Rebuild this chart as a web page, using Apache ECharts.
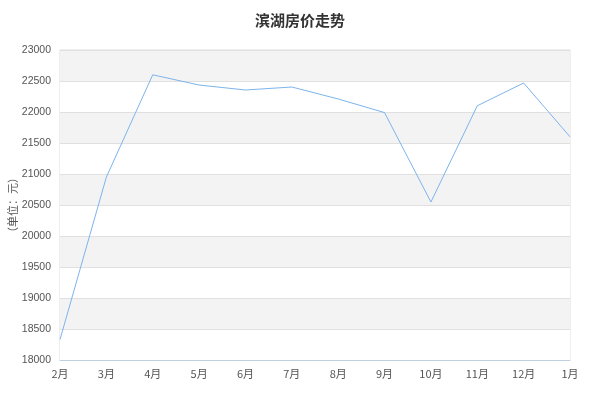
<!DOCTYPE html>
<html>
<head>
<meta charset="utf-8">
<script src="https://cdn.jsdelivr.net/npm/echarts@6/dist/echarts.min.js"></script>
<style>html,body{margin:0;padding:0;background:#fff;}#c{width:600px;height:400px;}</style>
</head>
<body>
<div id="c"></div>
<script>
const titleText = '滨湖房价走势';
const yAxisName = '（单位：元）';
const categories = ['2月','3月','4月','5月','6月','7月','8月','9月','10月','11月','12月','1月'];
const prices = [18330, 20950, 22600, 22435, 22355, 22403, 22210, 21990, 20548, 22100, 22468, 21600];
const yMin = 18000, yMax = 23000, yStep = 500;

const chart = echarts.init(document.getElementById('c'));
chart.setOption({
  animation: false,
  title: {
    text: titleText, left: 'center', top: 8,
    textStyle: { fontSize: 15, fontWeight: 'bold', color: '#333', fontFamily: 'Noto Sans CJK SC' }
  },
  grid: { left: 60, right: 30, top: 50, bottom: 40, containLabel: false, outerBoundsMode: 'none',
          show: true, borderColor: '#ddd', borderWidth: 1 },
  xAxis: {
    type: 'category', data: categories, boundaryGap: false,
    axisLine: { lineStyle: { color: '#c0d0e0' } },
    axisTick: { show: false },
    axisLabel: { color: '#555', fontSize: 11, fontFamily: 'Noto Sans CJK SC', margin: 8 }
  },
  yAxis: {
    type: 'value', min: yMin, max: yMax, interval: yStep,
    name: yAxisName, nameLocation: 'middle', nameRotate: 90, nameGap: 42, nameMoveOverlap: false,
    nameTextStyle: { color: '#555', fontSize: 11, fontFamily: 'Noto Sans CJK SC' },
    axisLine: { show: false }, axisTick: { show: false },
    axisLabel: { color: '#555', fontSize: 10.5, fontFamily: 'Liberation Sans', margin: 9,
                 formatter: v => String(v) },
    splitLine: { lineStyle: { color: '#e0e0e0' } },
    splitArea: { show: true, areaStyle: { color: ['#ffffff', '#f3f3f3'] } }
  },
  series: [{
    type: 'line', data: prices, symbol: 'none',
    lineStyle: { color: '#7cb5ec', width: 1 }
  }]
});
</script>
</body>
</html>
